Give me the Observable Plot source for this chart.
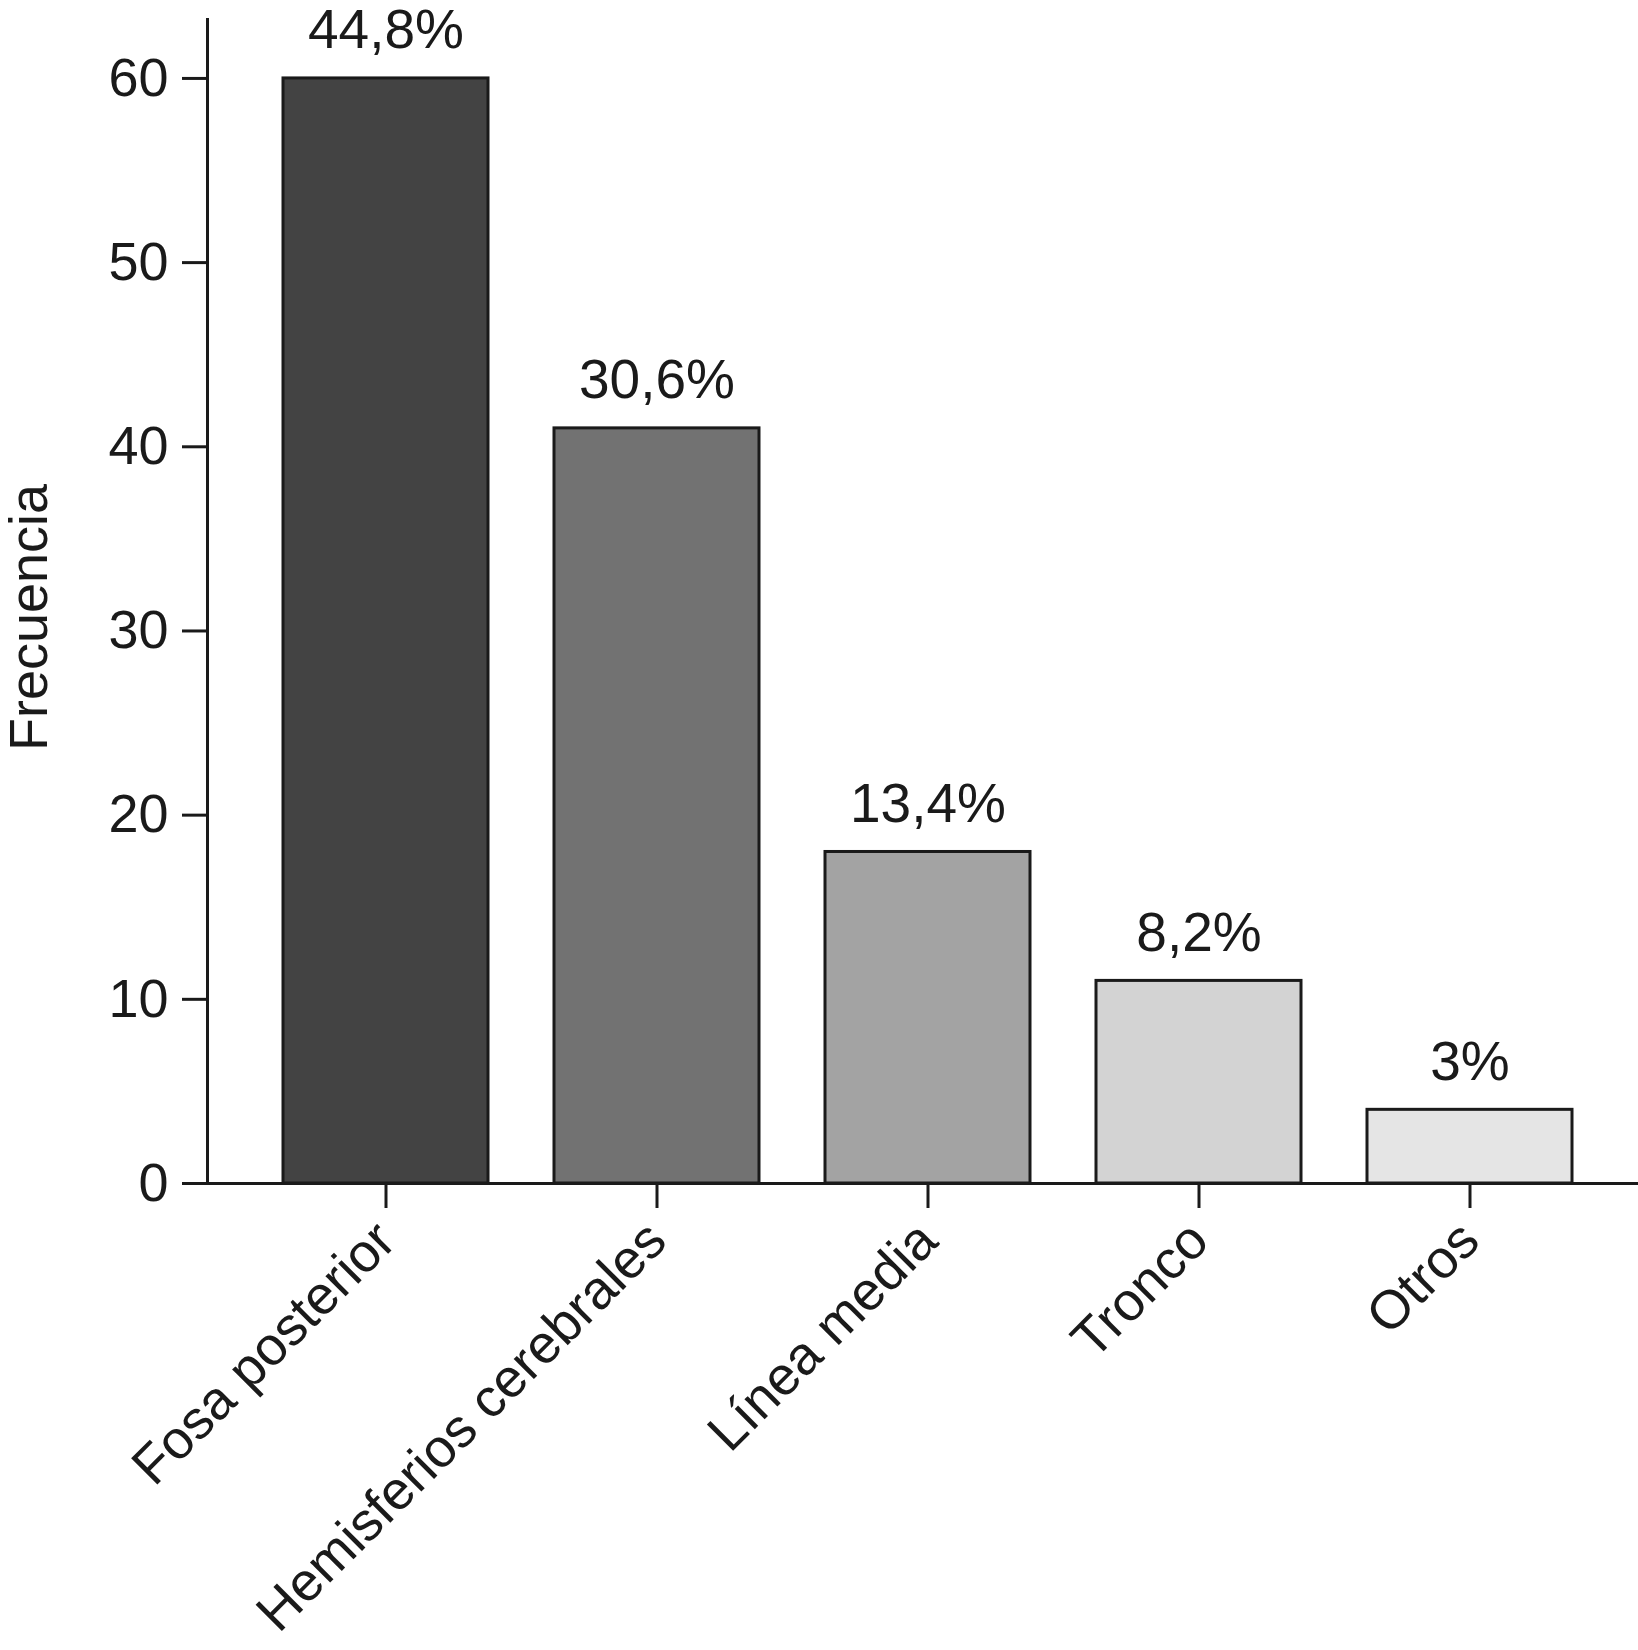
<!DOCTYPE html>
<html>
<head>
<meta charset="utf-8">
<script src="https://cdn.jsdelivr.net/npm/d3@7"></script>
<script src="https://cdn.jsdelivr.net/npm/@observablehq/plot@0.6"></script>
<style>
  html, body { margin: 0; padding: 0; background: #fff; }
  #chart svg { display: block; }
</style>
</head>
<body>
<div id="chart"></div>
<script>
const categories = ["Fosa posterior", "Hemisferios cerebrales", "Línea media", "Tronco", "Otros"];
const frequencies = [60, 41, 18, 11, 4];
const percentLabels = ["44,8%", "30,6%", "13,4%", "8,2%", "3%"];
const barColors = ["#434343", "#727272", "#a3a3a3", "#d3d3d3", "#e5e5e5"];
const yTicks = [0, 10, 20, 30, 40, 50, 60];

const data = categories.map((c, i) => ({category: c, value: frequencies[i], label: percentLabels[i], color: barColors[i]}));

const FONT = "'Liberation Sans', Arial, Helvetica, sans-serif";

const chart = Plot.plot({
  width: 1638,
  height: 1650,
  marginLeft: 207,
  marginRight: 0,
  marginTop: 19,
  marginBottom: 467,
  style: {fontFamily: FONT, fontSize: "54px", color: "#1a1a1a", background: "#fff"},
  x: {domain: categories, range: [216, 1638], paddingInner: 0.244, paddingOuter: 0.244, label: null},
  y: {domain: [0, 63.2], label: null},
  marks: [
    Plot.barY(data, {x: "category", y: "value", fill: "color", stroke: "#1a1a1a", strokeWidth: 3}),
    Plot.text(data, {x: "category", y: "value", text: "label", dy: -30, lineAnchor: "bottom", fontSize: 55, fill: "#1a1a1a"}),
    Plot.ruleY([0], {stroke: "#1a1a1a", strokeWidth: 3}),
    Plot.frame({anchor: "left", stroke: "#1a1a1a", strokeWidth: 3}),
    Plot.axisY({ticks: yTicks, tickSize: 25, tickPadding: 14, strokeWidth: 3, fontSize: 54, label: null, stroke: "#1a1a1a"}),
    Plot.axisX({tickSize: 25, tickPadding: 23, tickRotate: -45, strokeWidth: 3, fontSize: 54, label: null, stroke: "#1a1a1a"}),
    Plot.text(["Frecuencia"], {frameAnchor: "left", textAnchor: "middle", dx: -178, dy: 16, rotate: -90, fontSize: 54, fill: "#1a1a1a", lineAnchor: "middle"})
  ]
});
document.getElementById("chart").appendChild(chart);
</script>
</body>
</html>
